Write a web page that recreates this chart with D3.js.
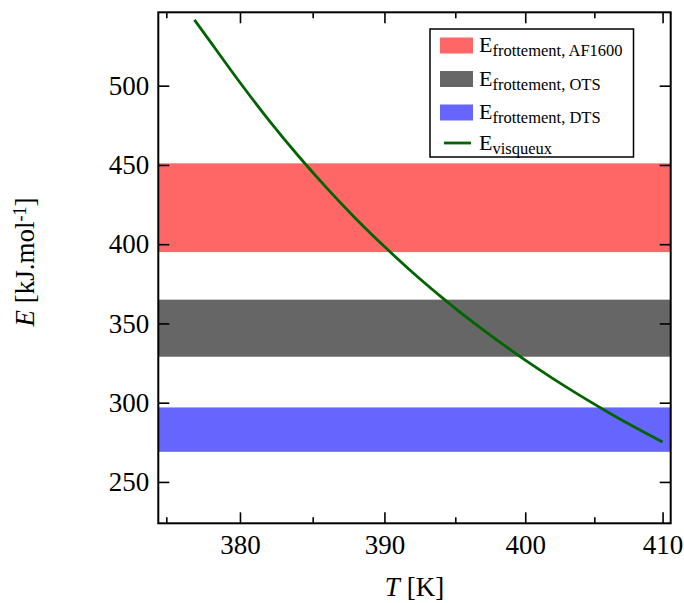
<!DOCTYPE html>
<html>
<head>
<meta charset="utf-8">
<script src="https://cdn.jsdelivr.net/npm/d3@7/dist/d3.min.js"></script>
<style>
  html, body { margin: 0; padding: 0; background: #fff; }
  svg { display: block; }
  text { font-family: "Liberation Serif", "DejaVu Serif", serif; fill: #000; }
</style>
</head>
<body>
<svg id="chart" width="684" height="603"></svg>
<script>
// ---- Data ----
const bandNames = ["frottement, AF1600", "frottement, OTS", "frottement, DTS"];
const bandLow   = [395, 329, 269];
const bandHigh  = [451, 365, 297];
const bandColors = ["#ff6666", "#666666", "#6666ff"];

const curveT = [376.9, 378, 380, 382, 384, 386, 388, 390, 392, 394, 396, 398, 400, 402, 404, 406, 408, 410];
const curveE = [541.5, 527.5, 502, 478, 455.8, 435.2, 416.1, 398.5, 382, 366.8, 352.5, 339.3, 326.8, 315.2, 304.3, 294, 284.3, 275.2];
const curveName = "visqueux";

const xMajorTicks = [380, 390, 400, 410];
const xMinorTicks = [375, 385, 395, 405];
const yTicks = [250, 300, 350, 400, 450, 500];

// ---- Layout ----
const L = 158.3, R = 670.7, T = 12.3, B = 523.3;
const svg = d3.select("#chart");

const x = d3.scaleLog().domain([374.46, 410.6]).range([L, R]);
const y = d3.scaleLinear().domain([223.9, 546.3]).range([B, T]);

svg.append("defs").append("clipPath").attr("id", "clip")
  .append("rect").attr("x", L).attr("y", T).attr("width", R - L).attr("height", B - T);

const plot = svg.append("g").attr("clip-path", "url(#clip)");

// bands
plot.selectAll("rect.band").data(bandLow).enter().append("rect")
  .attr("class", "band")
  .attr("x", L).attr("width", R - L)
  .attr("y", (d, i) => y(bandHigh[i]))
  .attr("height", (d, i) => y(bandLow[i]) - y(bandHigh[i]))
  .attr("fill", (d, i) => bandColors[i]);

// curve
const pts = curveT.map((t, i) => [t, curveE[i]]);
plot.append("path").datum(pts)
  .attr("d", d3.line().x(d => x(d[0])).y(d => y(d[1])).curve(d3.curveNatural))
  .attr("fill", "none").attr("stroke", "#006400").attr("stroke-width", 2.8);

// ---- Axes ----
const fontTick = "27px";
function styleAxis(g) {
  g.attr("font-family", null);
  g.select(".domain").remove();
  g.selectAll(".tick line").attr("stroke", "#000").attr("stroke-width", 1.6);
  g.selectAll(".tick text").style("font-size", fontTick).attr("fill", "#000");
}
const fmt = d3.format("d");

svg.append("g").attr("transform", `translate(0,${B})`)
  .call(d3.axisBottom(x).tickValues(xMajorTicks).tickFormat(fmt).tickSize(-11).tickPadding(12))
  .call(styleAxis);
svg.append("g").attr("transform", `translate(0,${B})`)
  .call(d3.axisBottom(x).tickValues(xMinorTicks).tickFormat("").tickSize(-6))
  .call(styleAxis);
svg.append("g").attr("transform", `translate(0,${T})`)
  .call(d3.axisTop(x).tickValues(xMajorTicks).tickFormat("").tickSize(-11))
  .call(styleAxis);
svg.append("g").attr("transform", `translate(0,${T})`)
  .call(d3.axisTop(x).tickValues(xMinorTicks).tickFormat("").tickSize(-6))
  .call(styleAxis);
svg.append("g").attr("transform", `translate(${L},0)`)
  .call(d3.axisLeft(y).tickValues(yTicks).tickFormat(fmt).tickSize(-11).tickPadding(9))
  .call(styleAxis);
svg.append("g").attr("transform", `translate(${R},0)`)
  .call(d3.axisRight(y).tickValues(yTicks).tickFormat("").tickSize(-11))
  .call(styleAxis);

// frame
svg.append("rect").attr("x", L).attr("y", T).attr("width", R - L).attr("height", B - T)
  .attr("fill", "none").attr("stroke", "#000").attr("stroke-width", 2);

// axis labels
const xl = svg.append("text").attr("x", (L + R) / 2).attr("y", 596)
  .attr("text-anchor", "middle").style("font-size", "27px");
xl.append("tspan").attr("font-style", "italic").text("T");
xl.append("tspan").text(" [K]");

const yl = svg.append("text").attr("transform", "translate(34,262) rotate(-90)")
  .attr("text-anchor", "middle").style("font-size", "27px");
yl.append("tspan").attr("font-style", "italic").text("E");
yl.append("tspan").text(" [kJ.mol");
yl.append("tspan").attr("dy", "-0.45em").style("font-size", "18px").text("-1");
yl.append("tspan").attr("dy", "0.3em").text("]");

// ---- Legend ----
const lg = svg.append("g");
lg.append("rect").attr("x", 430).attr("y", 29).attr("width", 203.5).attr("height", 128)
  .attr("fill", "#fff").attr("stroke", "#000").attr("stroke-width", 1.5);
const rowY = [45.5, 79, 112.5, 143];
bandNames.forEach((n, i) => {
  lg.append("rect").attr("x", 440).attr("y", rowY[i] - 8).attr("width", 33).attr("height", 16)
    .attr("fill", bandColors[i]);
});
lg.append("line").attr("x1", 444).attr("x2", 471).attr("y1", rowY[3]).attr("y2", rowY[3])
  .attr("stroke", "#006400").attr("stroke-width", 2.8);
const names = bandNames.concat([curveName]);
names.forEach((n, i) => {
  const t = lg.append("text").attr("x", 479).attr("y", rowY[i] + 6.5).style("font-size", "22px");
  t.append("tspan").text("E");
  t.append("tspan").attr("dy", 4).style("font-size", "16.5px").text(n);
});
</script>
</body>
</html>
